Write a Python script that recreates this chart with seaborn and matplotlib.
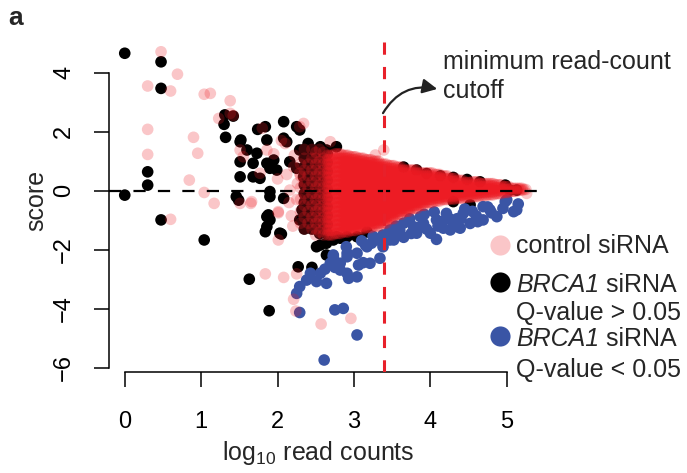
import pandas as pd
import seaborn as sns
import matplotlib.pyplot as plt
from matplotlib.lines import Line2D

# control siRNA - isolated points
ctrl_x = [0.475, 0.69, 0.30, 0.60, 1.04, 1.12, 1.38, 1.38, 1.23, 0.30, 0.90, 0.955, 0.30,
          0.845, 1.04, 1.17, 1.51, 1.65, 0.60, 2.01, 1.84, 2.08, 2.25, 2.21, 2.24, 2.57,
          2.96, 2.01, 2.29, 2.34, 2.69, 3.39, 3.28, 1.66, 2.01, 5.26, 1.42, 1.80, 2.05,
          2.10, 2.21, 2.29, 2.16, 1.55, 1.51, 1.77, 1.86, 1.95, 2.00, 2.15, 2.20, 2.22,
          2.18, 2.25, 2.12, 2.26]
ctrl_y = [4.71, 3.95, 3.55, 3.38, 3.27, 3.30, 3.05, 2.62, 2.45, 2.08, 1.81, 1.27, 1.23,
          0.36, -0.06, -0.43, -0.43, -0.43, -0.97, -0.75, -2.82, -2.94, -2.82, -3.68, -4.08, -4.52,
          -4.33, -1.67, 2.17, 2.28, 1.66, 1.38, 1.21, -0.37, -0.71, -0.09, 2.55, 2.12, 1.70,
          1.60, 0.81, 0.59, 0.02, 1.15, 1.38, 0.59, 1.38, 1.25, 0.40, -0.40, -1.20, 1.20,
          -0.85, -0.30, 0.55, 0.25]

# control siRNA - dense cloud, read column band by column band
ctrl_band_x = [[2.30, 2.40], [2.35, 2.45], [2.50, 2.60], [2.55], [2.65, 2.675, 2.70, 2.725],
               [2.75, 2.775, 2.80, 2.825], [2.85, 2.875, 2.90, 2.925], [2.95, 2.975, 3.00, 3.025],
               [3.05, 3.075, 3.10, 3.125], [3.15, 3.175, 3.20, 3.225], [3.25, 3.275, 3.30, 3.325],
               [3.35, 3.375, 3.40, 3.425], [3.45, 3.475, 3.50, 3.525], [3.55, 3.575, 3.60, 3.625],
               [3.65, 3.675, 3.70, 3.725], [3.75, 3.775, 3.80, 3.825], [3.85, 3.875, 3.90, 3.925],
               [3.95, 3.975, 4.00, 4.025], [4.05, 4.075, 4.10, 4.125], [4.15, 4.175, 4.20, 4.225],
               [4.25, 4.275, 4.30, 4.325], [4.35, 4.375, 4.40, 4.425], [4.45, 4.475, 4.50, 4.525],
               [4.55, 4.575, 4.60, 4.625], [4.65, 4.675, 4.70, 4.725], [4.75, 4.775, 4.80, 4.825],
               [4.85, 4.875, 4.90, 4.925], [4.95, 4.975, 5.00, 5.025], [5.05, 5.075, 5.10, 5.125],
               [5.15, 5.175, 5.20], [5.225, 5.25]]
ctrl_band_y = [
    [-1.1, -0.7, -0.3, 0.1, 0.5, 0.9],
    [-1.3, -0.9, -0.5, -0.1, 0.3, 0.7, 1.1, 1.4],
    [-1.5, -1.3, -1.1, -0.9, -0.7, -0.5, -0.3, -0.1, 0.1, 0.3, 0.5, 0.7, 0.9, 1.1, 1.3],
    [-1.4, -1.0, -0.6, -0.2, 0.2, 0.6, 1.0, 1.4],
    [-1.5, -1.35, -1.2, -1.05, -0.9, -0.75, -0.6, -0.45, -0.3, -0.15, 0.0, 0.15, 0.3, 0.45,
     0.6, 0.75, 0.9, 1.05, 1.2],
    [-1.45, -1.3, -1.15, -1.0, -0.85, -0.7, -0.55, -0.4, -0.25, -0.1, 0.05, 0.2, 0.35, 0.5,
     0.65, 0.8, 0.95, 1.1, 1.25],
    [-1.4, -1.3, -1.2, -1.1, -1.0, -0.9, -0.8, -0.7, -0.6, -0.5, -0.4, -0.3, -0.2, -0.1, 0.0,
     0.1, 0.2, 0.3, 0.4, 0.5, 0.6, 0.7, 0.8, 0.9, 1.0, 1.1, 1.2],
    [-1.35, -1.25, -1.15, -1.05, -0.95, -0.85, -0.75, -0.65, -0.55, -0.45, -0.35, -0.25,
     -0.15, -0.05, 0.05, 0.15, 0.25, 0.35, 0.45, 0.55, 0.65, 0.75, 0.85, 0.95, 1.05, 1.15],
    [-1.3, -1.2, -1.1, -1.0, -0.9, -0.8, -0.7, -0.6, -0.5, -0.4, -0.3, -0.2, -0.1, 0.0, 0.1,
     0.2, 0.3, 0.4, 0.5, 0.6, 0.7, 0.8, 0.9, 1.0, 1.1],
    [-1.25, -1.15, -1.05, -0.95, -0.85, -0.75, -0.65, -0.55, -0.45, -0.35, -0.25, -0.15,
     -0.05, 0.05, 0.15, 0.25, 0.35, 0.45, 0.55, 0.65, 0.75, 0.85, 0.95, 1.05],
    [-1.2, -1.1, -1.0, -0.9, -0.8, -0.7, -0.6, -0.5, -0.4, -0.3, -0.2, -0.1, 0.0, 0.1, 0.2,
     0.3, 0.4, 0.5, 0.6, 0.7, 0.8, 0.9, 1.0],
    [-1.1, -1.0, -0.9, -0.8, -0.7, -0.6, -0.5, -0.4, -0.3, -0.2, -0.1, 0.0, 0.1, 0.2, 0.3,
     0.4, 0.5, 0.6, 0.7, 0.8, 0.9],
    [-0.95, -0.85, -0.75, -0.65, -0.55, -0.45, -0.35, -0.25, -0.15, -0.05, 0.05, 0.15, 0.25,
     0.35, 0.45, 0.55, 0.65, 0.75, 0.85],
    [-0.8, -0.7, -0.6, -0.5, -0.4, -0.3, -0.2, -0.1, 0.0, 0.1, 0.2, 0.3, 0.4, 0.5, 0.6, 0.7, 0.8],
    [-0.7, -0.6, -0.5, -0.4, -0.3, -0.2, -0.1, 0.0, 0.1, 0.2, 0.3, 0.4, 0.5, 0.6, 0.7],
    [-0.6, -0.5, -0.4, -0.3, -0.2, -0.1, 0.0, 0.1, 0.2, 0.3, 0.4, 0.5, 0.6, 0.7],
    [-0.5, -0.4, -0.3, -0.2, -0.1, 0.0, 0.1, 0.2, 0.3, 0.4, 0.5, 0.6],
    [-0.4, -0.3, -0.2, -0.1, 0.0, 0.1, 0.2, 0.3, 0.4, 0.5, 0.6],
    [-0.35, -0.25, -0.15, -0.05, 0.05, 0.15, 0.25, 0.35, 0.45, 0.55],
    [-0.3, -0.2, -0.1, 0.0, 0.1, 0.2, 0.3, 0.4, 0.5],
    [-0.28, -0.18, -0.08, 0.02, 0.12, 0.22, 0.32, 0.42],
    [-0.25, -0.15, -0.05, 0.05, 0.15, 0.25, 0.35],
    [-0.22, -0.12, -0.02, 0.08, 0.18, 0.28],
    [-0.2, -0.1, 0.0, 0.1, 0.2, 0.3],
    [-0.16, -0.06, 0.04, 0.14, 0.24],
    [-0.14, -0.04, 0.06, 0.16, 0.24],
    [-0.1, 0.0, 0.1, 0.2],
    [-0.06, 0.04, 0.14],
    [-0.02, 0.08],
    [0.02, 0.08],
    [0.04],
]

# BRCA1 siRNA, Q-value > 0.05
brca_x = [0.0, 0.475, 0.475, 1.42, 1.30, 1.32, 0.30, 0.30, 0.0, 1.46, 0.475, 1.52, 1.74, 1.84,
          1.90, 1.88, 1.04, 1.63, 1.89, 2.27, 2.45, 1.49, 2.56, 2.64, 2.73, 2.82, 2.05, 1.84,
          1.31, 1.51, 1.60, 1.73, 1.86, 2.08, 2.12, 1.51, 1.68, 1.86, 1.95, 1.99, 1.51, 1.68,
          1.90, 1.77, 1.90, 2.08, 2.16, 2.25, 2.34, 2.29, 2.40, 2.56, 2.29, 2.25, 2.08, 2.32,
          2.29, 1.86, 1.90, 1.86, 2.03, 2.38, 2.47, 2.56, 2.64, 2.51, 2.77, 2.91, 3.04, 3.17,
          2.47, 2.64, 2.77, 3.65, 3.82, 3.95, 4.13, 4.30, 4.48, 4.65, 4.30, 4.52, 4.98, 5.04,
          5.13]
brca_y = [4.66, 4.37, 3.47, 2.53, 2.25, 1.81, 0.64, 0.19, -0.15, -0.20, -0.99, 1.72, 2.08, 2.17,
          -0.20, -0.82, -1.67, -3.00, -4.07, -2.58, -2.60, -0.32, -1.84, -2.18, -1.67, -1.61, -1.47, -1.39,
          2.57, 1.66, 1.38, 1.27, 1.72, 1.78, 1.66, 0.98, 0.93, 0.93, 1.04, 0.70, 0.47, 0.47,
          0.76, 0.42, -0.03, -0.26, 0.98, 0.76, 0.47, 1.38, 1.60, 1.49, 2.06, 2.17, 2.34, -0.65,
          -0.99, -0.88, -0.99, -1.22, -1.44, -0.65, -0.88, -1.44, -1.78, -1.90, -1.56, -1.56, -1.56, -1.40,
          -0.99, 1.38, 1.49, 0.80, 0.70, 0.58, 0.50, 0.45, 0.38, 0.30, -0.37, -0.48, 0.19, 0.02,
          0.02]
# BRCA1 siRNA, Q-value > 0.05 - points hidden under the control cloud
brca_band_x = [[2.35, 2.45], [2.55, 2.65]]
brca_band_y = [
    [-1.3, -1.0, -0.7, -0.4, -0.1, 0.2, 0.5, 0.8, 1.1, 1.4],
    [-1.45, -1.15, -0.85, -0.55, -0.25, 0.05, 0.35, 0.65, 0.95, 1.25],
]

# BRCA1 siRNA, Q-value < 0.05
sig_x = [5.00, 5.13, 5.09, 4.98, 4.87, 4.78, 4.69, 4.69, 4.52, 4.43, 4.39, 4.35, 4.26, 4.30,
         4.17, 4.21, 4.08, 4.08, 4.00, 3.91, 3.87, 3.82, 3.78, 3.73, 3.65, 3.65, 3.52, 3.47,
         3.38, 3.38, 3.30, 3.17, 3.04, 3.21, 2.91, 2.82, 2.73, 2.69, 2.91, 3.04, 2.56, 2.43,
         2.38, 2.64, 2.29, 2.25, 2.51, 2.62, 2.75, 2.82, 2.93, 2.73, 2.91, 2.90, 3.06, 3.12,
         3.34, 3.15, 3.23, 3.47, 3.38, 3.52, 2.29, 2.75, 2.86, 3.04, 2.61, 4.60, 4.80, 4.95,
         4.40, 4.15, 3.95, 3.75, 3.55, 3.25, 3.10, 4.25, 4.55, 5.15, 3.60, 3.85, 4.10, 4.35,
         4.62, 4.45, 4.05, 3.92, 4.75]
sig_y = [-0.31, -0.65, -0.71, -0.37, -0.88, -0.65, -0.99, -0.54, -1.11, -0.77, -1.27, -1.22, -1.33, -1.11,
         -1.27, -0.77, -0.99, -1.65, -1.44, -1.11, -0.88, -1.44, -1.22, -0.95, -1.10, -1.58, -1.67, -1.33,
         -1.67, -1.90, -1.67, -1.90, -2.12, -2.46, -2.24, -2.46, -2.24, -2.46, -2.80, -2.92, -2.80, -2.80,
         -3.03, -3.14, -3.25, -3.48, -3.08, -2.66, -2.60, -2.69, -2.97, -2.18, -2.12, -1.90, -2.52, -2.44,
         -2.29, -1.84, -1.78, -1.67, -1.50, -1.44, -4.13, -4.04, -3.99, -4.89, -5.74, -0.85, -0.75, -0.60,
         -0.95, -1.05, -1.30, -1.45, -1.20, -1.55, -1.70, -0.95, -0.70, -0.45, -1.35, -1.25, -1.20, -0.95,
         -1.05, -0.62, -0.72, -0.80, -0.55]

cutoff = 3.39


def expand(band_x, band_y):
    xs, ys = [], []
    for cols, rows in zip(band_x, band_y):
        for c in cols:
            for r in rows:
                xs.append(c)
                ys.append(r)
    return xs, ys


cx, cy = expand(ctrl_band_x, ctrl_band_y)
ctrl = pd.DataFrame({"x": ctrl_x + cx, "y": ctrl_y + cy})
bx, by = expand(brca_band_x, brca_band_y)
brca = pd.DataFrame({"x": brca_x + bx, "y": brca_y + by})
sig = pd.DataFrame({"x": sig_x, "y": sig_y})

RED = "#ED1C24"
BLUE = "#3A55A5"

sns.set_style("ticks")
plt.rcParams['font.family'] = ['Liberation Sans', 'DejaVu Sans']
plt.rcParams['mathtext.fontset'] = 'custom'
plt.rcParams['mathtext.rm'] = 'Liberation Sans'
plt.rcParams['mathtext.it'] = 'Liberation Sans:italic'

fig = plt.figure(figsize=(6.87, 4.73), dpi=100)
ax = fig.add_axes([0.158, 0.2127, 0.6366, 0.704])

pt = dict(s=70, linewidth=0, edgecolor="none", legend=False, ax=ax)
sns.scatterplot(data=brca, x="x", y="y", color="black", zorder=2, **pt)
sns.scatterplot(data=sig, x="x", y="y", color=BLUE, zorder=3, **pt)
sns.scatterplot(data=ctrl, x="x", y="y", color=RED, alpha=0.25, zorder=4, **pt)

ax.axhline(0, color="black", lw=1.6, ls=(0, (5.5, 5.5)), zorder=5)
ax.axvline(cutoff, color="#E8202A", lw=2.2, ls=(0, (4, 4)), zorder=5)

ax.set_xlim(-0.212, 5.512)
ax.set_ylim(-6.16, 5.13)
ax.set_xticks(range(0, 6))
ax.set_yticks([-6, -4, -2, 0, 2, 4])
for side in ["top", "right"]:
    ax.spines[side].set_visible(False)
ax.spines["left"].set_bounds(-6, 4)
ax.spines["bottom"].set_bounds(0, 5)
for side in ["left", "bottom"]:
    ax.spines[side].set_linewidth(1.1)
    ax.spines[side].set_color("black")
ax.tick_params(length=11, width=1.1, color="black", labelsize=17, labelcolor="black")
ax.tick_params(axis="x", pad=17)
ax.tick_params(axis="y", pad=13, labelrotation=90)
for lab in ax.get_yticklabels():
    lab.set_verticalalignment("center")

ax.set_xlabel("log$_{10}$ read counts", fontsize=18)
ax.xaxis.label.set_verticalalignment("baseline")
ax.xaxis.set_label_coords(0.479, -0.263)
ax.set_ylabel("score", fontsize=18)
ax.yaxis.set_label_coords(-0.137, 0.515)

# cutoff annotation
ax.annotate("", xy=(4.09, 3.45), xytext=(3.38, 2.63),
            arrowprops=dict(arrowstyle="-|>", color="#222222", lw=1.6,
                            mutation_scale=22, shrinkA=0, shrinkB=0,
                            connectionstyle="arc3,rad=-0.35"), zorder=6)
ax.text(4.17, 3.14, "minimum read-count\ncutoff", fontsize=18, va="baseline", ha="left",
        linespacing=1.25)

fig.text(0.012, 0.962, "a", fontsize=19, fontweight="bold", va="center", ha="left")

# legend drawn by hand
mk = [(245, RED, 0.25), (282, "black", 1.0), (336, BLUE, 1.0)]
for py, col, al in mk:
    fig.add_artist(Line2D([500 / 687], [1 - py / 473], marker="o", ms=14.5, color=col,
                          alpha=al, mew=0, transform=fig.transFigure))

renderer = fig.canvas.get_renderer()
leg_lines = [(252.5, "", "control siRNA"), (291.5, "BRCA1", " siRNA"),
             (320, "", "Q-value > 0.05"), (345.5, "BRCA1", " siRNA"),
             (377, "", "Q-value < 0.05")]
x0 = 516 / 687
for py, ital, rest in leg_lines:
    y = 1 - py / 473
    x = x0
    if ital:
        t = fig.text(x, y, ital, fontsize=18, style="italic", va="baseline", ha="left")
        bb = t.get_window_extent(renderer)
        x = bb.x1 / fig.bbox.width
    fig.text(x, y, rest, fontsize=18, va="baseline", ha="left")

fig.savefig("out.png", dpi=100)
